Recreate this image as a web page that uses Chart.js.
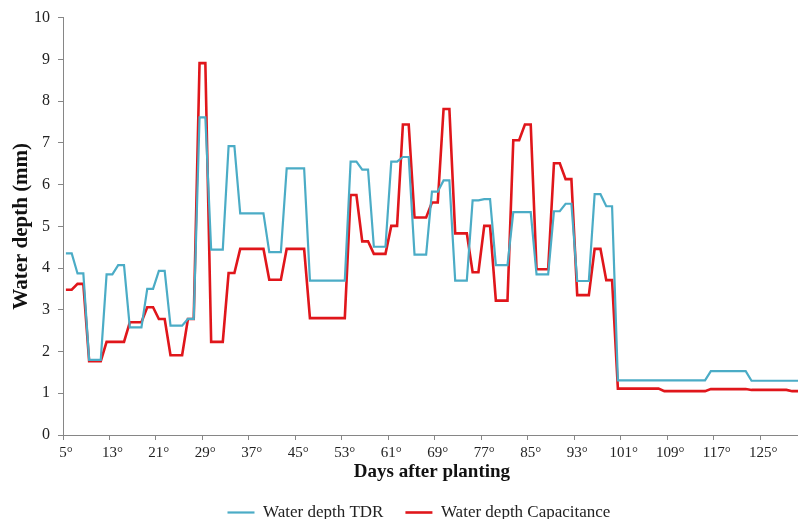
<!DOCTYPE html>
<html>
<head>
<meta charset="utf-8">
<script src="https://cdn.jsdelivr.net/npm/chart.js@4.4.0/dist/chart.umd.min.js"></script>
<style>
  html, body { margin: 0; padding: 0; background: #fff; overflow: hidden; }
  #wrap { width: 802px; height: 519px; }
</style>
</head>
<body>
<div id="wrap"><canvas id="depthChart"></canvas></div>
<script>
// days after planting, 5 .. 131
var days = [];
for (var d = 5; d <= 131; d++) days.push(d);

var depthTDR = [
  4.35, 4.35, 3.87, 3.87, 1.80, 1.80, 1.80, 3.85, 3.85, 4.07,
  4.07, 2.58, 2.58, 2.58, 3.50, 3.50, 3.93, 3.93, 2.62, 2.62,
  2.62, 2.78, 2.78, 7.61, 7.61, 4.44, 4.44, 4.44, 6.92, 6.92,
  5.31, 5.31, 5.31, 5.31, 5.31, 4.38, 4.38, 4.38, 6.39, 6.39,
  6.39, 6.39, 3.70, 3.70, 3.70, 3.70, 3.70, 3.70, 3.70, 6.55,
  6.55, 6.36, 6.36, 4.51, 4.51, 4.51, 6.55, 6.55, 6.66, 6.66,
  4.32, 4.32, 4.32, 5.83, 5.83, 6.10, 6.10, 3.70, 3.70, 3.70,
  5.62, 5.62, 5.65, 5.65, 4.07, 4.07, 4.07, 5.34, 5.34, 5.34,
  5.34, 3.85, 3.85, 3.85, 5.36, 5.36, 5.54, 5.54, 3.69, 3.69,
  3.69, 5.77, 5.77, 5.48, 5.48, 1.31, 1.31, 1.31, 1.31, 1.31,
  1.31, 1.31, 1.31, 1.31, 1.31, 1.31, 1.31, 1.31, 1.31, 1.31,
  1.31, 1.53, 1.53, 1.53, 1.53, 1.53, 1.53, 1.53, 1.30, 1.30,
  1.30, 1.30, 1.30, 1.30, 1.30, 1.30, 1.30
];

var depthCapacitance = [
  3.48, 3.48, 3.62, 3.62, 1.77, 1.77, 1.77, 2.23, 2.23, 2.23,
  2.23, 2.70, 2.70, 2.70, 3.06, 3.06, 2.78, 2.78, 1.91, 1.91,
  1.91, 2.78, 2.78, 8.91, 8.91, 2.23, 2.23, 2.23, 3.88, 3.88,
  4.46, 4.46, 4.46, 4.46, 4.46, 3.72, 3.72, 3.72, 4.46, 4.46,
  4.46, 4.46, 2.80, 2.80, 2.80, 2.80, 2.80, 2.80, 2.80, 5.75,
  5.75, 4.64, 4.64, 4.34, 4.34, 4.34, 5.01, 5.01, 7.44, 7.44,
  5.21, 5.21, 5.21, 5.57, 5.57, 7.81, 7.81, 4.83, 4.83, 4.83,
  3.90, 3.90, 5.01, 5.01, 3.22, 3.22, 3.22, 7.06, 7.06, 7.44,
  7.44, 3.97, 3.97, 3.97, 6.51, 6.51, 6.13, 6.13, 3.35, 3.35,
  3.35, 4.46, 4.46, 3.71, 3.71, 1.11, 1.11, 1.11, 1.11, 1.11,
  1.11, 1.11, 1.11, 1.05, 1.05, 1.05, 1.05, 1.05, 1.05, 1.05,
  1.05, 1.10, 1.10, 1.10, 1.10, 1.10, 1.10, 1.10, 1.08, 1.08,
  1.08, 1.08, 1.08, 1.08, 1.08, 1.05, 1.05
];

var labelEvery = 8;
var serif = "'Liberation Serif', 'Times New Roman', serif";
var axisGrey = '#868686';

// nudge the legend a little to the left, like the original
var legendNudge = {
  id: 'legendNudge',
  afterLayout: function(chart) {
    if (chart.legend) {
      chart.legend.left -= 13;
      chart.legend.right -= 13;
    }
  }
};

var ctx = document.getElementById('depthChart');

var depthChart = new Chart(ctx, {
  type: 'line',
  data: {
    labels: days,
    datasets: [
      {
        label: 'Water depth TDR',
        data: depthTDR,
        borderColor: '#4BACC6',
        backgroundColor: '#4BACC6',
        borderWidth: 2.2,
        pointRadius: 0,
        pointStyle: 'line',
        tension: 0
      },
      {
        label: 'Water depth Capacitance',
        data: depthCapacitance,
        borderColor: '#E0161B',
        backgroundColor: '#E0161B',
        borderWidth: 2.6,
        pointRadius: 0,
        pointStyle: 'line',
        tension: 0
      }
    ]
  },
  plugins: [legendNudge],
  options: {
    responsive: true,
    maintainAspectRatio: false,
    animation: false,
    layout: { padding: { top: 16, right: 0, bottom: -12, left: 0 } },
    plugins: {
      tooltip: { enabled: false },
      legend: {
        position: 'bottom',
        fullSize: false,
        labels: {
          usePointStyle: true,
          pointStyle: 'line',
          pointStyleWidth: 27,
          padding: 22,
          color: '#222',
          font: { family: serif, size: 17 }
        }
      }
    },
    scales: {
      x: {
        type: 'category',
        offset: true,
        afterFit: function(scale) { scale.height = 47; },
        border: { display: true, color: axisGrey, width: 1 },
        grid: {
          offset: true,
          drawOnChartArea: false,
          tickLength: 5,
          tickColor: function(c) {
            return c.index % labelEvery === 0 ? axisGrey : 'rgba(0,0,0,0)';
          }
        },
        ticks: {
          autoSkip: false,
          maxRotation: 0,
          minRotation: 0,
          padding: 4,
          color: '#222',
          font: { family: serif, size: 15 },
          callback: function(value, index) {
            return index % labelEvery === 0 ? days[index] + '°' : '';
          }
        },
        title: {
          display: true,
          text: 'Days after planting',
          color: '#111',
          padding: { top: 0, bottom: 0 },
          font: { family: serif, size: 19, weight: 'bold', lineHeight: 1.0 }
        }
      },
      y: {
        min: 0,
        max: 10,
        afterFit: function(scale) { scale.width = 63; },
        border: { display: true, color: axisGrey, width: 1 },
        grid: { drawOnChartArea: false, tickLength: 5, tickColor: axisGrey },
        ticks: {
          stepSize: 1,
          padding: 8,
          color: '#222',
          font: { family: serif, size: 16 }
        },
        title: {
          display: true,
          text: 'Water depth (mm)',
          color: '#111',
          padding: { top: 9, bottom: 0 },
          font: { family: serif, size: 21, weight: 'bold' }
        }
      }
    }
  }
});
</script>
</body>
</html>
